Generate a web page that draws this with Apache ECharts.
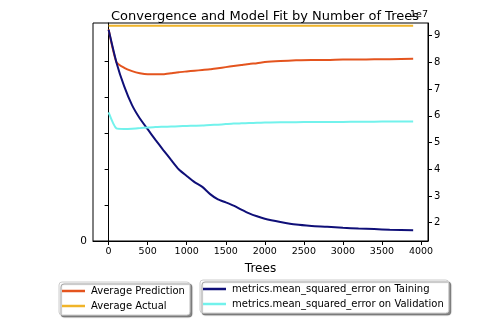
<!DOCTYPE html>
<html>
<head>
<meta charset="utf-8">
<script src="https://cdn.jsdelivr.net/npm/echarts@6/dist/echarts.min.js"></script>
<style>html,body{margin:0;padding:0;background:#fff;}#c{width:480px;height:324px;}</style>
</head>
<body>
<div id="c"></div>
<script>
const trees = [0,100,200,300,400,500,600,700,800,900,1000,1100,1200,1300,1400,1500,1600,1700,1800,1900,2000,2200,2400,2600,2800,3000,3200,3400,3600,3900];
// left axis (arbitrary units, tick labels hidden in reference except 0)
const avgPrediction = [5.88,4.97,4.81,4.72,4.66,4.63,4.63,4.63,4.66,4.69,4.71,4.73,4.75,4.77,4.80,4.83,4.86,4.89,4.92,4.94,4.97,5.00,5.02,5.03,5.03,5.04,5.04,5.05,5.05,5.06];
const avgActual = [5.98,5.98,5.98,5.98,5.98,5.98,5.98,5.98,5.98,5.98,5.98,5.98,5.98,5.98,5.98,5.98,5.98,5.98,5.98,5.98,5.98,5.98,5.98,5.98,5.98,5.98,5.98,5.98,5.98,5.98];
// right axis, units of 1e7
const mseTrain = [9.22,8.00,7.10,6.40,5.90,5.50,5.10,4.72,4.35,3.99,3.75,3.52,3.34,3.07,2.87,2.76,2.64,2.49,2.35,2.24,2.15,2.03,1.93,1.88,1.85,1.81,1.78,1.76,1.74,1.72];
const mseValid = [6.13,5.53,5.51,5.52,5.54,5.56,5.58,5.59,5.60,5.61,5.62,5.63,5.64,5.66,5.67,5.69,5.71,5.72,5.73,5.74,5.75,5.76,5.76,5.77,5.77,5.77,5.78,5.78,5.79,5.79];
const xTicks = [0,500,1000,1500,2000,2500,3000,3500,4000];
const rightTicks = [2e7,3e7,4e7,5e7,6e7,7e7,8e7,9e7];
const leftTicks = [0,1,2,3,4,5];

const pair = (ys, k) => trees.map((t,i)=>[t, ys[i]*k]);
const FONT = 'DejaVu Sans';
const chart = echarts.init(document.getElementById('c'), null, {renderer:'canvas'});
const legendCommon = {
  orient:'vertical', icon:'rect', itemWidth:23, itemHeight:2.5, itemGap:3,
  padding:[3,5,3,3], borderColor:'#cccccc', borderWidth:1, borderRadius:3,
  backgroundColor:'#fff', shadowColor:'rgba(0,0,0,0.45)', shadowBlur:1, shadowOffsetX:2, shadowOffsetY:2,
  textStyle:{fontFamily:FONT, fontSize:10, color:'#000', lineHeight:12, padding:[0,0,0,1]}
};
chart.setOption({
  animation:false,
  textStyle:{fontFamily:FONT},
  title:{text:'Convergence and Model Fit by Number of Trees', left:260, textAlign:'center', top:5,
    textStyle:{fontFamily:FONT, fontSize:13, fontWeight:'normal', color:'#000'}},
  grid:{left:93, right:52, top:23, bottom:83, show:true, borderColor:'#000', borderWidth:1, containLabel:false},
  legend:[
    Object.assign({}, legendCommon, {left:59, top:282, data:['Average Prediction','Average Actual']}),
    Object.assign({}, legendCommon, {left:200, top:280, data:['metrics.mean_squared_error on Taining','metrics.mean_squared_error on Validation']})
  ],
  xAxis:{type:'value', min:-200, max:4090, name:'Trees', nameLocation:'middle', nameGap:22,
    nameTextStyle:{fontFamily:FONT, fontSize:12, color:'#000'},
    axisLine:{lineStyle:{color:'#000'}}, splitLine:{show:false},
    axisTick:{show:true, length:4, customValues:xTicks, lineStyle:{color:'#000'}},
    axisLabel:{customValues:xTicks, formatter:v=>String(v), fontFamily:FONT, fontSize:9.5, color:'#000', margin:6}},
  yAxis:[
    {type:'value', position:'left', min:0, max:6.056,
      axisLine:{show:true, lineStyle:{color:'#000'}}, splitLine:{show:false},
      axisTick:{show:true, length:4, customValues:leftTicks, lineStyle:{color:'#000'}},
      axisLabel:{customValues:leftTicks, formatter:v=> v===0?'0':'', fontFamily:FONT, fontSize:10.5, color:'#000', margin:6}},
    {type:'value', position:'right', min:1.315e7, max:9.475e7, name:'1e7', nameLocation:'end', nameGap:3,
      nameTextStyle:{fontFamily:FONT, fontSize:9.5, color:'#000', align:'right', verticalAlign:'bottom'},
      axisLine:{show:true, lineStyle:{color:'#000'}}, splitLine:{show:false},
      axisTick:{show:true, length:4, customValues:rightTicks, lineStyle:{color:'#000'}},
      axisLabel:{customValues:rightTicks, formatter:v=>String(Math.round(v/1e7)), fontFamily:FONT, fontSize:10, color:'#000', margin:6}}
  ],
  series:[
    {name:'Average Prediction', type:'line', yAxisIndex:0, data:pair(avgPrediction,1), symbol:'none', smooth:0.2,
      lineStyle:{color:'#e4541e', width:2}, itemStyle:{color:'#e4541e'}},
    {name:'Average Actual', type:'line', yAxisIndex:0, data:pair(avgActual,1), symbol:'none',
      lineStyle:{color:'#f0b429', width:2}, itemStyle:{color:'#f0b429'}},
    {name:'metrics.mean_squared_error on Taining', type:'line', yAxisIndex:1, data:pair(mseTrain,1e7), symbol:'none', smooth:0.2,
      lineStyle:{color:'#0f0f78', width:2}, itemStyle:{color:'#0f0f78'}},
    {name:'metrics.mean_squared_error on Validation', type:'line', yAxisIndex:1, data:pair(mseValid,1e7), symbol:'none', smooth:0.2,
      lineStyle:{color:'#72f2ec', width:2}, itemStyle:{color:'#72f2ec'}}
  ]
});
</script>
</body>
</html>
